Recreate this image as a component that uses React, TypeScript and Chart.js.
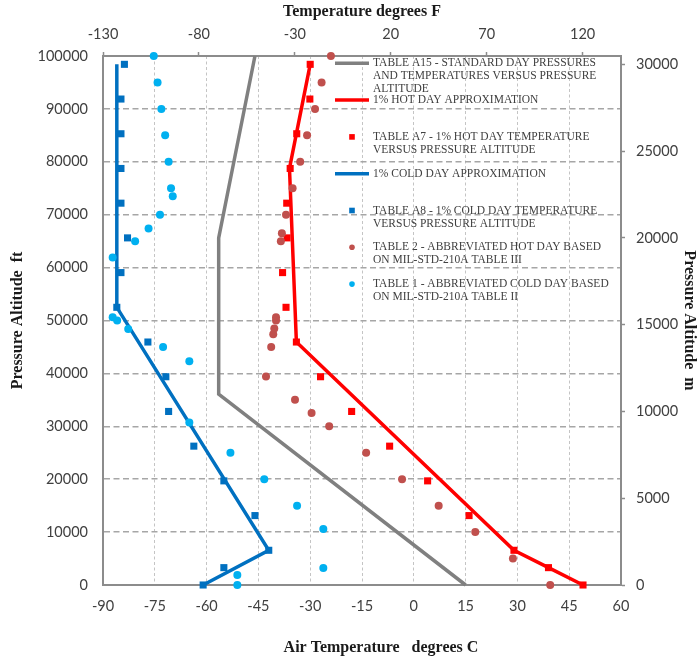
import React, { useEffect, useRef } from 'react';
import { Chart, registerables } from 'chart.js';

Chart.register(...registerables);

// ---------- DATA ----------
// Table A15 - standard day
const STD_TEMP_C = [15, -56.5, -56.5, -46];
const STD_ALT_FT = [0, 36089, 65617, 100000];

// 1% hot day approximation (line)
const HOT_APPROX_TEMP_C = [49, 39, 29, -34, -36, -30];
const HOT_APPROX_ALT_FT = [0, 3281, 6562, 45932, 78740, 98425];

// 1% cold day approximation (line)
const COLD_APPROX_TEMP_C = [-61, -42, -86, -86];
const COLD_APPROX_ALT_FT = [0, 6562, 52493, 98425];

// Table A7 / A8 altitudes (0..30 km)
const TABLE_A_ALT_FT = [0, 3281, 6562, 13123, 19685, 26247, 32808, 39370, 45932, 52493, 59055, 65617, 72178, 78740, 85302, 91863, 98425];
const HOT_A7_TEMP_C = [49, 39, 29, 16, 4, -7, -18, -27, -34, -37, -38, -36.7, -36.8, -35.8, -33.9, -30.1, -30];
const COLD_A8_TEMP_C = [-61, -55, -42, -46, -55, -63.7, -71, -71.8, -77, -86, -84.8, -82.9, -84.8, -84.8, -84.8, -84.8, -83.8];

// Table 2 - abbreviated hot day (MIL-STD-210A Table III)
const HOT_MIL_TEMP_C = [39.5, 28.7, 17.8, 7.2, -3.4, -13.8, -24.5, -29.6, -34.4, -42.8, -41.3, -40.7, -40.4, -39.9, -39.9, -38.5, -38.2, -37, -35.1, -32.9, -30.9, -28.6, -26.7, -24];
const HOT_MIL_ALT_FT = [0, 5000, 10000, 15000, 20000, 25000, 30000, 32500, 35000, 39400, 45000, 47400, 48500, 50000, 50600, 65000, 66500, 70000, 75000, 80000, 85000, 90000, 95000, 100000];

// Table 1 - abbreviated cold day (MIL-STD-210A Table II)
const COLD_MIL_TEMP_C = [-51.1, -51.1, -26.2, -26.2, -33.8, -43.3, -53.1, -65, -65, -72.6, -82.7, -85.9, -87.2, -87.2, -80.7, -76.8, -73.5, -69.8, -70.3, -71, -72, -73.1, -74.2, -75.3];
const COLD_MIL_ALT_FT = [0, 1900, 3200, 10600, 15000, 20000, 25000, 30700, 42300, 45000, 48400, 50000, 50600, 61900, 65000, 67400, 70000, 73500, 75000, 80000, 85000, 90000, 95000, 100000];

// Axis ticks
const C_TICKS = [-90, -75, -60, -45, -30, -15, 0, 15, 30, 45, 60];
const F_TICKS = [-130, -80, -30, 20, 70, 120];
const FT_TICKS = [0, 10000, 20000, 30000, 40000, 50000, 60000, 70000, 80000, 90000, 100000];
const M_TICKS = [0, 5000, 10000, 15000, 20000, 25000, 30000];

// Legend text (wrapped lines)
const LEGEND_LINES = [
  ['TABLE A15 - STANDARD DAY PRESSURES', 'AND TEMPERATURES VERSUS PRESSURE', 'ALTITUDE'],
  ['1% HOT DAY APPROXIMATION'],
  ['TABLE A7 - 1% HOT DAY TEMPERATURE', 'VERSUS PRESSURE ALTITUDE'],
  ['1% COLD DAY APPROXIMATION'],
  ['TABLE A8 - 1% COLD DAY TEMPERATURE', 'VERSUS PRESSURE ALTITUDE'],
  ['TABLE 2 - ABBREVIATED HOT DAY BASED', 'ON MIL-STD-210A TABLE III'],
  ['TABLE 1 - ABBREVIATED COLD DAY BASED', 'ON MIL-STD-210A TABLE II'],
];

const X_TITLE = 'Air Temperature   degrees C';
const X2_TITLE = 'Temperature degrees F';
const Y_TITLE = 'Pressure Altitude  ft';
const Y2_TITLE = 'Pressure Altitude  m';

// ---------- STYLE ----------
const GRAY = '#808080';
const RED = '#ff0000';
const BLUE = '#0070c0';
const BROWN = '#c0504d';
const CYAN = '#00b0f0';
const AXIS = '#8c8c8c';
const TEXT = '#404040';
const TICK_FONT = { family: 'Lato', size: 14.5 };
const TITLE_FONT = { family: '"Liberation Serif"', size: 16, weight: 'bold' as const };

const zip = (xs: number[], ys: number[]) => xs.map((x, i) => ({ x, y: ys[i] }));

const legendPlugin = {
  id: 'customLegendAndTitle',
  afterDraw(chart: any) {
    const ctx = chart.ctx as CanvasRenderingContext2D;
    ctx.save();
    chart.data.datasets.forEach((ds: any, i: number) => {
      const y = 63.3 + i * 36.8;
      if (ds.showLine) {
        ctx.strokeStyle = ds.borderColor;
        ctx.lineWidth = 3.5;
        ctx.beginPath();
        ctx.moveTo(335, y);
        ctx.lineTo(369, y);
        ctx.stroke();
      } else {
        ctx.fillStyle = ds.backgroundColor;
        if (ds.pointStyle === 'rect') {
          ctx.fillRect(352 - 2.8, y - 2.8, 5.6, 5.6);
        } else {
          ctx.beginPath();
          ctx.arc(352, y, 2.8, 0, Math.PI * 2);
          ctx.fill();
        }
      }
      ctx.fillStyle = TEXT;
      ctx.font = '11.5px "Liberation Serif"';
      ctx.textBaseline = 'middle';
      ctx.textAlign = 'left';
      LEGEND_LINES[i].forEach((line, k) => {
        ctx.fillText(line, 373, y + k * 13);
      });
    });
    // bottom axis title
    ctx.fillStyle = '#1a1a1a';
    ctx.font = 'bold 16px "Liberation Serif"';
    ctx.textAlign = 'center';
    ctx.textBaseline = 'middle';
    ctx.fillText(X_TITLE, 381, 648);
    ctx.restore();
  },
};

export default function App() {
  const canvasRef = useRef<HTMLCanvasElement | null>(null);

  useEffect(() => {
    const canvas = canvasRef.current;
    if (!canvas) return;

    const datasets: any[] = [
      {
        label: LEGEND_LINES[0].join(' '),
        data: zip(STD_TEMP_C, STD_ALT_FT),
        showLine: true,
        borderColor: GRAY,
        backgroundColor: GRAY,
        borderWidth: 3.5,
        pointRadius: 0,
        order: 10,
      },
      {
        label: LEGEND_LINES[1].join(' '),
        data: zip(HOT_APPROX_TEMP_C, HOT_APPROX_ALT_FT),
        showLine: true,
        borderColor: RED,
        backgroundColor: RED,
        borderWidth: 3.5,
        pointRadius: 0,
        order: 9,
      },
      {
        label: LEGEND_LINES[2].join(' '),
        data: zip(HOT_A7_TEMP_C, TABLE_A_ALT_FT),
        showLine: false,
        pointStyle: 'rect',
        pointRadius: 5,
        borderWidth: 0,
        borderColor: RED,
        backgroundColor: RED,
        order: 8,
      },
      {
        label: LEGEND_LINES[3].join(' '),
        data: zip(COLD_APPROX_TEMP_C, COLD_APPROX_ALT_FT),
        showLine: true,
        borderColor: BLUE,
        backgroundColor: BLUE,
        borderWidth: 3.5,
        pointRadius: 0,
        order: 7,
      },
      {
        label: LEGEND_LINES[4].join(' '),
        data: zip(COLD_A8_TEMP_C, TABLE_A_ALT_FT),
        showLine: false,
        pointStyle: 'rect',
        pointRadius: 5,
        borderWidth: 0,
        borderColor: BLUE,
        backgroundColor: BLUE,
        order: 6,
      },
      {
        label: LEGEND_LINES[5].join(' '),
        data: zip(HOT_MIL_TEMP_C, HOT_MIL_ALT_FT),
        showLine: false,
        pointStyle: 'circle',
        pointRadius: 4,
        borderWidth: 0,
        borderColor: BROWN,
        backgroundColor: BROWN,
        order: 5,
      },
      {
        label: LEGEND_LINES[6].join(' '),
        data: zip(COLD_MIL_TEMP_C, COLD_MIL_ALT_FT),
        showLine: false,
        pointStyle: 'circle',
        pointRadius: 4,
        borderWidth: 0,
        borderColor: CYAN,
        backgroundColor: CYAN,
        order: 4,
      },
    ].map((d) => ({ ...d, clip: false }));

    const setTicks = (list: number[]) => (scale: any) => {
      scale.ticks = list.map((v) => ({ value: v }));
    };

    const chart = new Chart(canvas, {
      type: 'scatter',
      data: { datasets },
      plugins: [legendPlugin],
      options: {
        animation: false,
        responsive: false,
        layout: { padding: 0 },
        plugins: {
          legend: { display: false },
          tooltip: { enabled: false },
        },
        elements: { line: { tension: 0 } },
        scales: {
          x: {
            type: 'linear',
            position: 'bottom',
            min: -90,
            max: 60,
            afterBuildTicks: setTicks(C_TICKS),
            afterFit: (s: any) => { s.height = 74; },
            ticks: { color: TEXT, font: TICK_FONT, padding: 13, maxRotation: 0, callback: (v: any) => String(v) },
            grid: {
              color: (c: any) => (c.tick && (c.tick.value === -90 || c.tick.value === 60) ? 'rgba(0,0,0,0)' : '#c4c4c4'),
              lineWidth: 1,
              drawTicks: false,
            },
            border: { display: true, color: AXIS, width: 2, dash: [3, 2.5] },
            title: { display: false, text: X_TITLE },
          },
          x2: {
            type: 'linear',
            position: 'top',
            min: -130,
            max: 140,
            afterBuildTicks: setTicks(F_TICKS),
            afterFit: (s: any) => { s.height = 56; },
            ticks: { color: TEXT, font: TICK_FONT, padding: 9, maxRotation: 0, callback: (v: any) => String(v) },
            grid: { drawOnChartArea: false, drawTicks: true, tickLength: 4, tickColor: AXIS, tickWidth: 1.5, color: AXIS },
            border: { display: true, color: AXIS, width: 2 },
            title: {
              display: true,
              text: X2_TITLE,
              color: '#1a1a1a',
              font: TITLE_FONT,
              padding: { top: 2, bottom: 0 },
            },
          },
          y: {
            type: 'linear',
            position: 'left',
            min: 0,
            max: 100000,
            afterBuildTicks: setTicks(FT_TICKS),
            afterFit: (s: any) => { s.width = 103; },
            ticks: { color: TEXT, font: TICK_FONT, padding: 15, callback: (v: any) => String(v) },
            grid: {
              color: (c: any) => (c.tick && (c.tick.value === 0 || c.tick.value === 100000) ? 'rgba(0,0,0,0)' : '#a6a6a6'),
              lineWidth: 1.5,
              drawTicks: false,
            },
            border: { display: true, color: AXIS, width: 2, dash: [6, 3.5] },
            title: {
              display: true,
              text: Y_TITLE,
              color: '#1a1a1a',
              font: TITLE_FONT,
              padding: { top: 8, bottom: 0 },
            },
          },
          y2: {
            type: 'linear',
            position: 'right',
            min: 0,
            max: 30480,
            afterBuildTicks: setTicks(M_TICKS),
            afterFit: (s: any) => { s.width = 78; },
            ticks: { color: TEXT, font: TICK_FONT, padding: 11, callback: (v: any) => String(v) },
            grid: { drawOnChartArea: false, drawTicks: true, tickLength: 4, tickColor: AXIS, tickWidth: 1.5, color: AXIS },
            border: { display: true, color: AXIS, width: 2 },
            title: {
              display: true,
              text: Y2_TITLE,
              color: '#1a1a1a',
              font: TITLE_FONT,
              padding: { top: 0, bottom: 0 },
            },
          },
        },
      } as any,
    });

    return () => chart.destroy();
  }, []);

  return (
    <div style={{ position: 'absolute', left: 0, top: 0, width: 699, height: 659, background: '#fff' }}>
      <canvas ref={canvasRef} width={699} height={659} style={{ display: 'block', width: 699, height: 659 }} />
    </div>
  );
}
